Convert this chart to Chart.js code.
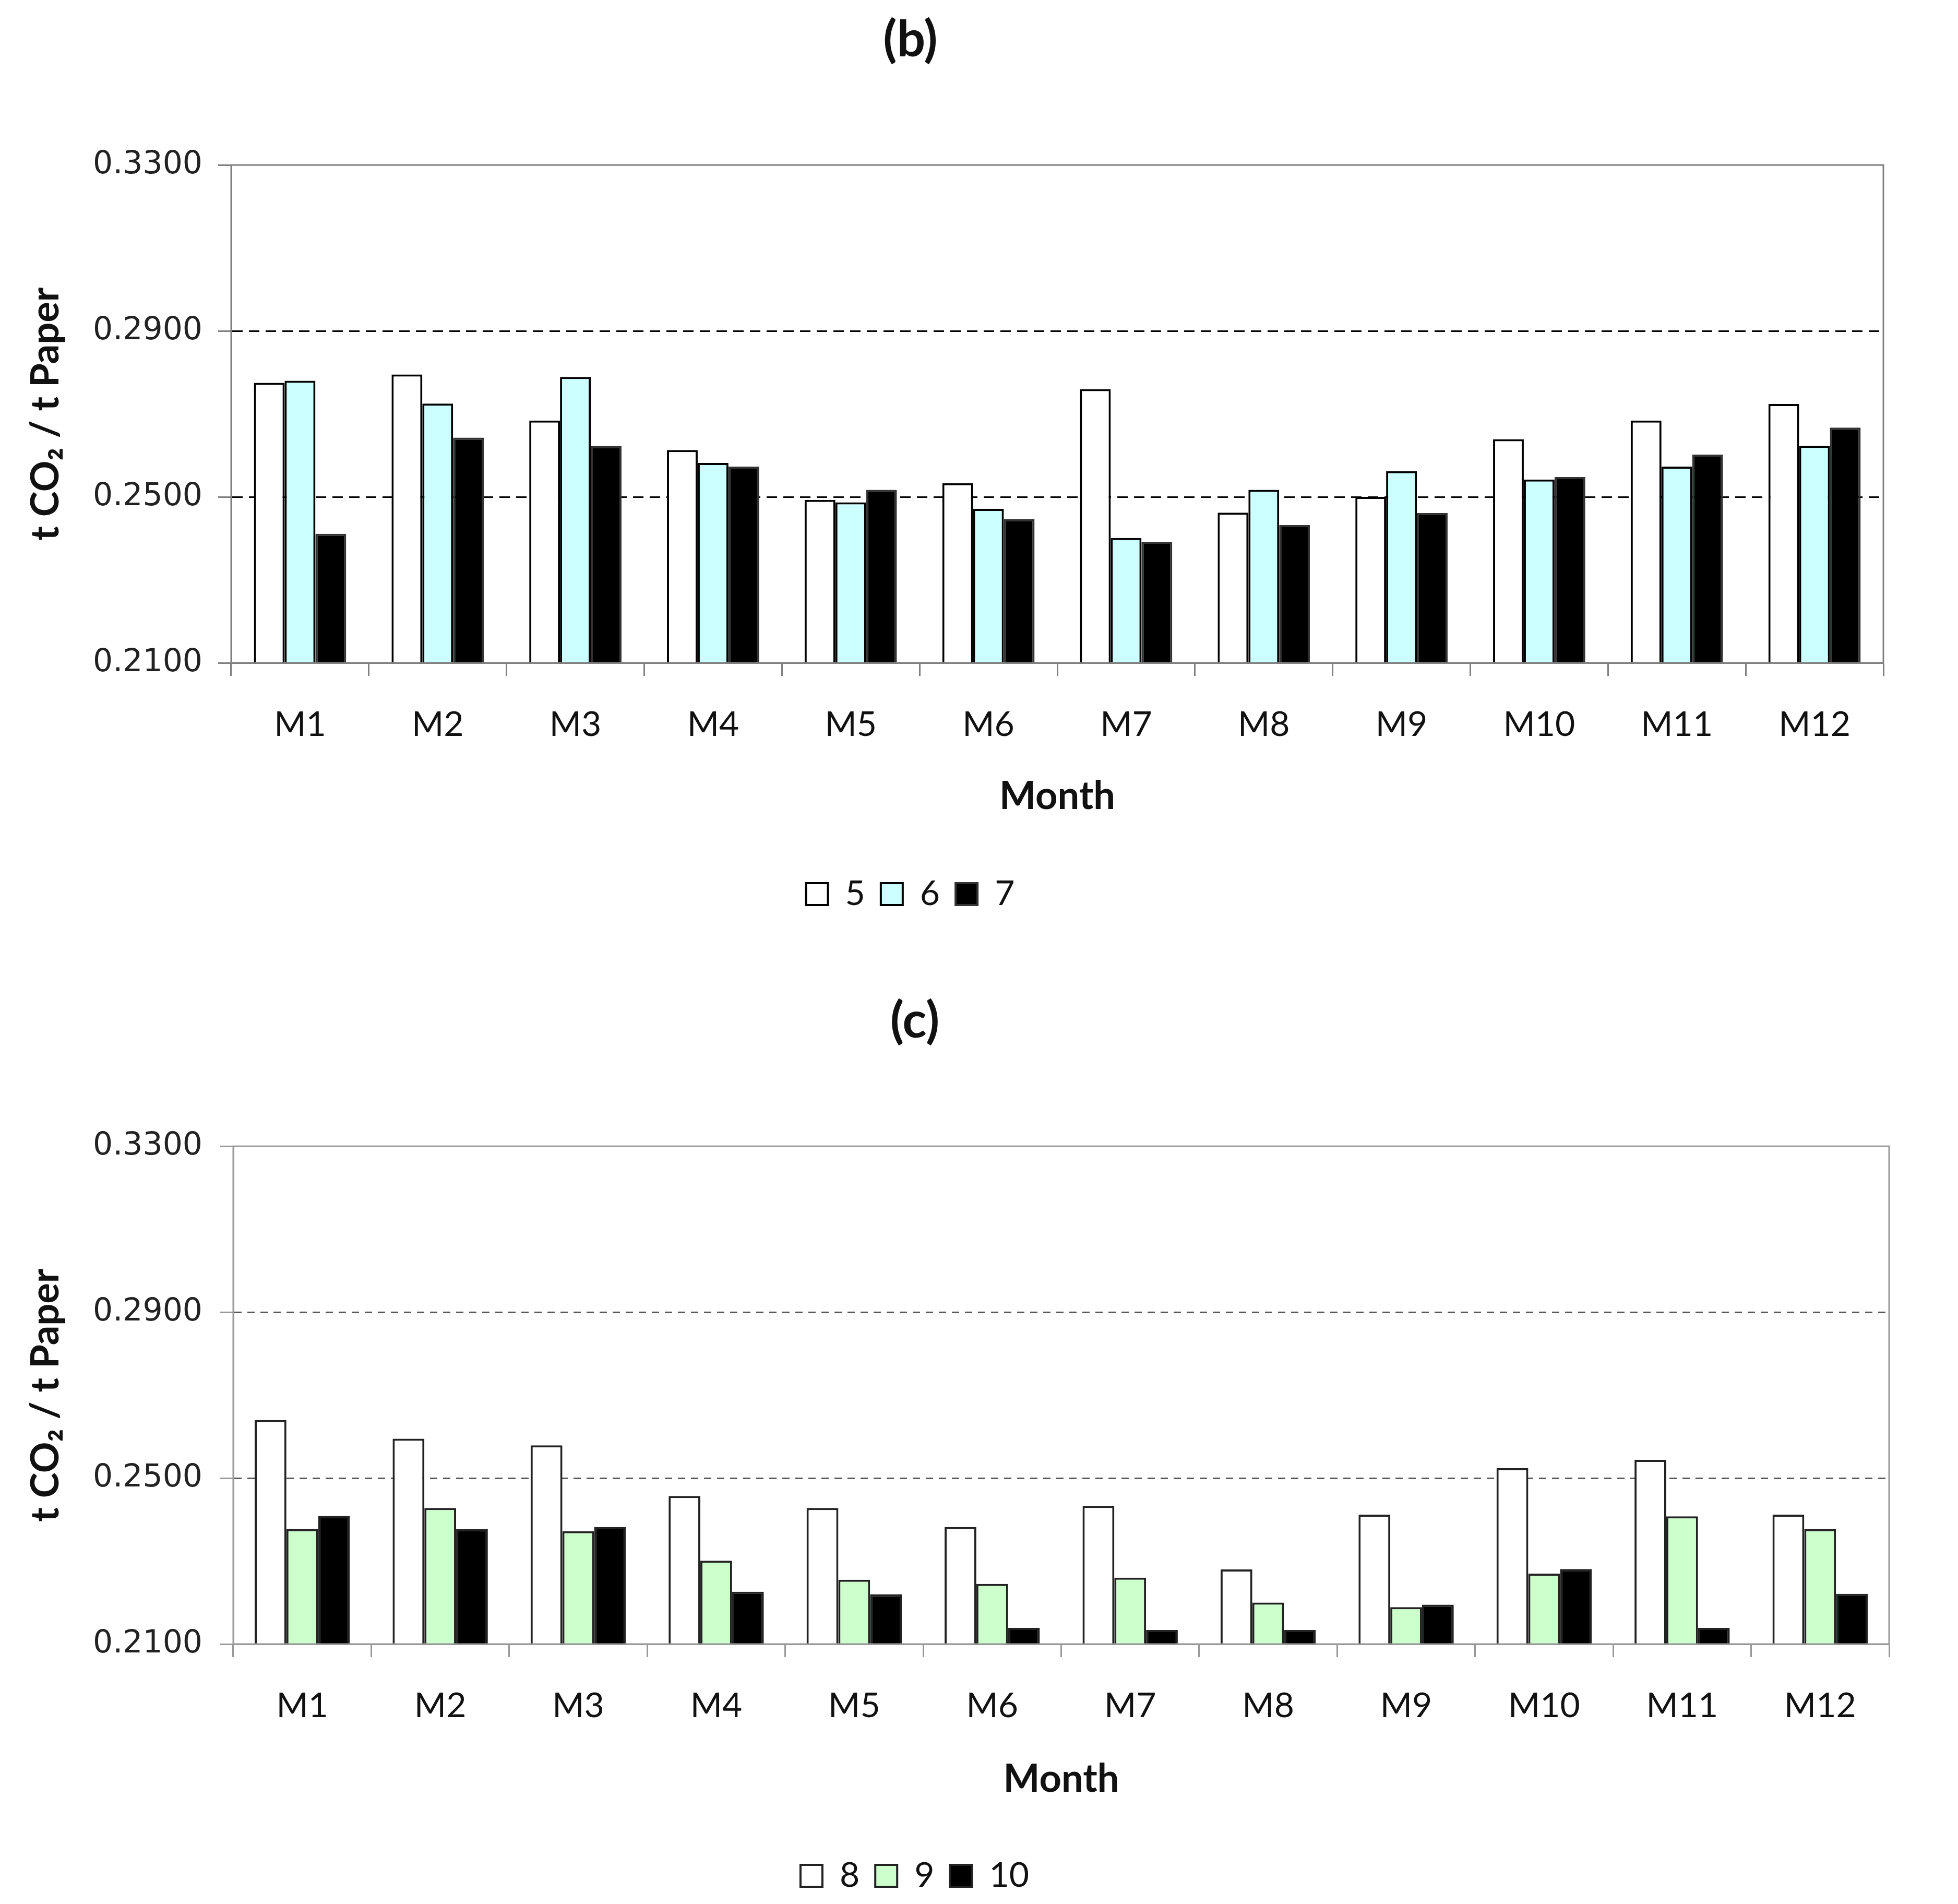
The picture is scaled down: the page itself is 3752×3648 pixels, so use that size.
<!DOCTYPE html>
<html>
<head>
<meta charset="utf-8">
<title>t CO2 / t Paper per month</title>
<script src="https://cdn.jsdelivr.net/npm/chart.js@4.4.1/dist/chart.umd.min.js"></script>
<style>
  html, body { margin: 0; padding: 0; background: #ffffff; }
  canvas { display: block; }
</style>
</head>
<body>
<canvas id="chartB" width="3752" height="1824"></canvas>
<canvas id="chartC" width="3752" height="1824"></canvas>
<script>
// Data
const months = ['M1', 'M2', 'M3', 'M4', 'M5', 'M6', 'M7', 'M8', 'M9', 'M10', 'M11', 'M12'];
const yTicks = [0.21, 0.25, 0.29, 0.33];

// Panel (b)
const seriesB = ['5', '6', '7'];
const b5 = [0.2775, 0.2795, 0.2684, 0.2613, 0.2493, 0.2533, 0.2760, 0.2462, 0.2500, 0.2639, 0.2684, 0.2724];
const b6 = [0.2780, 0.2725, 0.2789, 0.2582, 0.2487, 0.2471, 0.2401, 0.2517, 0.2562, 0.2542, 0.2573, 0.2623];
const b7 = [0.2411, 0.2643, 0.2623, 0.2573, 0.2517, 0.2447, 0.2392, 0.2432, 0.2461, 0.2548, 0.2602, 0.2667];

// Panel (c)
const seriesC = ['8', '9', '10'];
const c8 = [0.2640, 0.2595, 0.2579, 0.2457, 0.2428, 0.2382, 0.2433, 0.2280, 0.2412, 0.2524, 0.2544, 0.2412];
const c9 = [0.2377, 0.2428, 0.2372, 0.2301, 0.2255, 0.2245, 0.2260, 0.2200, 0.2189, 0.2270, 0.2408, 0.2377];
const c10 = [0.2409, 0.2377, 0.2382, 0.2226, 0.2220, 0.2139, 0.2134, 0.2134, 0.2195, 0.2281, 0.2139, 0.2221];

Chart.defaults.font.family = 'Lato';
Chart.defaults.color = '#111111';

// Excel-like frame round the plot area
const plotFrame = {
    id: 'plotFrame',
    afterDatasetsDraw(chart, args, opts) {
        const { ctx, chartArea: a } = chart;
        ctx.save();
        ctx.strokeStyle = opts.color;
        ctx.lineWidth = opts.width;
        ctx.strokeRect(a.left, a.top, a.right - a.left, a.bottom - a.top);
        ctx.restore();
    }
};

// Title and legend sit a bit left of the plot centre in the original
const shiftBlocks = {
    id: 'shiftBlocks',
    afterLayout(chart, args, opts) {
        [chart.titleBlock, chart.legend].forEach(b => {
            if (!b) return;
            b.left += opts.dx;
            b.right += opts.dx;
        });
    }
};

function initPanelChart(canvasId, labels, values, look) {
    const el = document.getElementById(canvasId);
    if (!el) return;

    return new Chart(el.getContext('2d'), {
        type: 'bar',
        data: {
            labels: months,
            datasets: labels.map((name, i) => ({
                label: name,
                data: values[i],
                backgroundColor: look.fills[i],
                borderColor: look.borders[i],
                borderWidth: 4,
                categoryPercentage: look.groupWidth,
                barPercentage: 1.0
            }))
        },
        options: {
            responsive: false,
            animation: false,
            events: [],
            layout: {
                padding: { left: 0, right: look.padRight, top: 0, bottom: look.padBottom }
            },
            scales: {
                x: {
                    offset: true,
                    afterFit: scale => { scale.height = look.xHeight; },
                    grid: {
                        offset: true,
                        drawOnChartArea: false,
                        drawTicks: true,
                        tickLength: 25,
                        tickColor: look.frame,
                        tickWidth: 3
                    },
                    border: { color: look.frame, width: 3 },
                    ticks: {
                        font: { family: 'Lato', size: 66 },
                        color: '#111111',
                        padding: 54,
                        maxRotation: 0,
                        autoSkip: false
                    },
                    title: {
                        display: true,
                        text: 'Month',
                        font: { family: 'Lato', size: 74, weight: 'bold' },
                        color: '#111111',
                        padding: { top: 0, bottom: look.monthPad }
                    }
                },
                y: {
                    min: yTicks[0],
                    max: yTicks[yTicks.length - 1],
                    afterBuildTicks: scale => { scale.ticks = yTicks.map(v => ({ value: v })); },
                    afterFit: scale => { scale.width = look.yWidth; },
                    grid: {
                        color: ctx => (ctx.index > 0 && ctx.index < yTicks.length - 1) ? look.gridColor : 'rgba(0,0,0,0)',
                        lineWidth: 3,
                        drawTicks: true,
                        tickLength: 25,
                        tickColor: look.frame,
                        tickWidth: 3
                    },
                    border: { color: look.frame, width: 3, dash: look.dash },
                    ticks: {
                        font: { family: 'DejaVu Sans', size: 60 },
                        color: '#222222',
                        padding: look.tickPad,
                        callback: v => Number(v).toFixed(4)
                    },
                    title: {
                        display: true,
                        text: 't CO\u2082 / t Paper',
                        font: { family: 'Lato', size: 74, weight: 'bold' },
                        color: '#111111',
                        padding: { top: 44, bottom: 0 }
                    }
                }
            },
            plugins: {
                title: {
                    display: true,
                    text: look.title,
                    font: { family: 'Lato', size: 96, weight: 'bold' },
                    color: '#111111',
                    padding: { top: look.titleTop, bottom: look.titleBottom }
                },
                legend: {
                    position: 'bottom',
                    labels: {
                        font: { family: 'Lato', size: 66 },
                        color: '#111111',
                        boxWidth: 42,
                        boxHeight: 42,
                        padding: 30
                    }
                },
                tooltip: { enabled: false },
                plotFrame: { color: look.frame, width: 3 },
                shiftBlocks: { dx: look.shift }
            }
        },
        plugins: [plotFrame, shiftBlocks]
    });
}

initPanelChart('chartB', seriesB, [b5, b6, b7], {
    title: '(b)',
    fills: ['#ffffff', '#ccffff', '#000000'],
    borders: ['#000000', '#000000', '#333333'],
    groupWidth: 0.67,
    frame: '#808080',
    gridColor: '#000000',
    dash: [20, 12],
    titleTop: 19,
    titleBottom: 182,
    padRight: 143,
    padBottom: 68,
    yWidth: 443,
    xHeight: 380,
    monthPad: 79,
    tickPad: 30,
    shift: -60
});

initPanelChart('chartC', seriesC, [c8, c9, c10], {
    title: '(c)',
    fills: ['#ffffff', '#ccffcc', '#000000'],
    borders: ['#222222', '#222222', '#222222'],
    groupWidth: 0.69,
    frame: '#999999',
    gridColor: '#595959',
    dash: [14, 11],
    titleTop: 75,
    titleBottom: 182,
    padRight: 132,
    padBottom: 11,
    yWidth: 447,
    xHeight: 381,
    monthPad: 77,
    tickPad: 34,
    shift: -57
});
</script>
</body>
</html>
